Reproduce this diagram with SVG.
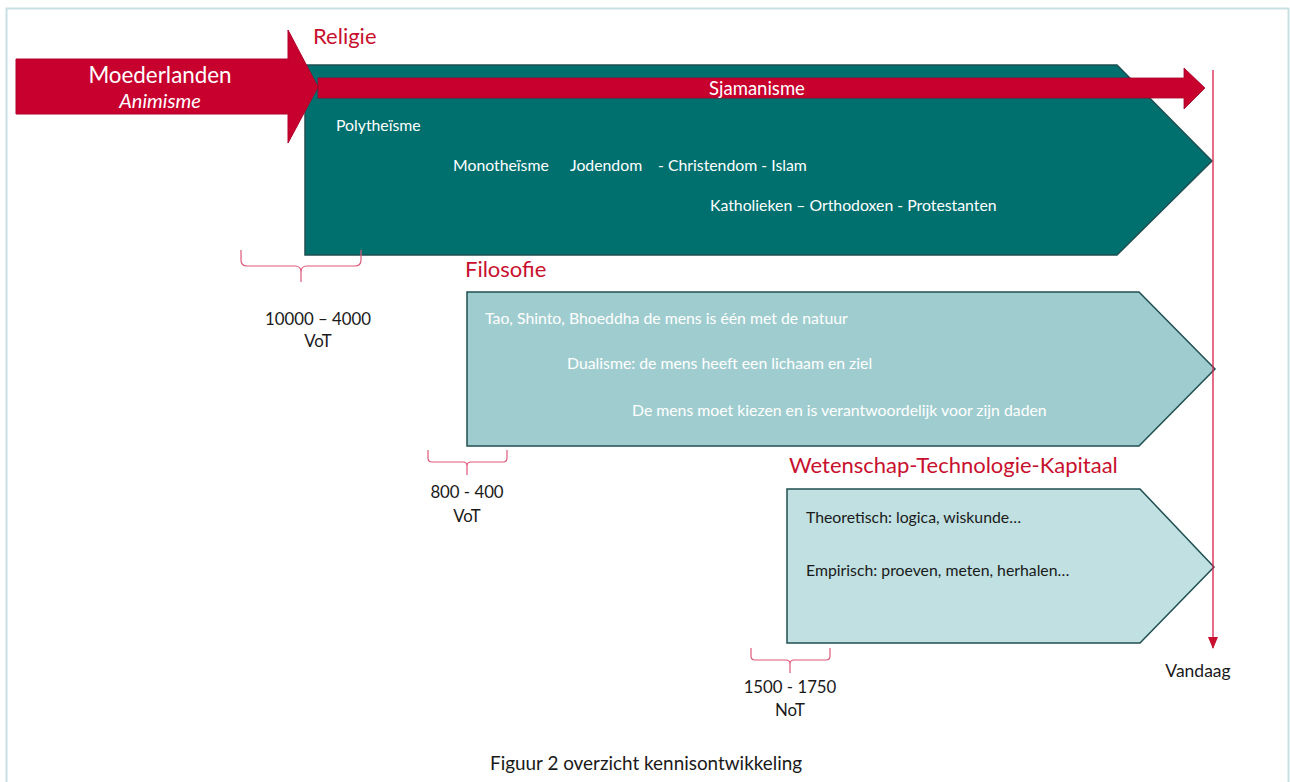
<svg xmlns="http://www.w3.org/2000/svg" width="1290" height="782" viewBox="0 0 1290 782">
<defs>
<style>
text{font-family:Lato,"Open Sans","Liberation Sans",sans-serif}
.lbl{fill:#C8102E;font-size:22px}
.w{fill:#ffffff;font-size:15.8px}
.d{fill:#1a1a1a;font-size:15.8px}
.k{fill:#1a1a1a;font-size:16.8px;text-anchor:middle}
.brace{fill:none;stroke:#E0587A;stroke-width:1.2}
</style>
<marker id="ah" markerWidth="12" markerHeight="12" refX="11" refY="6" orient="auto" markerUnits="userSpaceOnUse" viewBox="0 0 12 12">
<path d="M0,1 L12,6 L0,11 Z" fill="#C8102E"/>
</marker>
</defs>
<rect x="6.5" y="8.5" width="1282" height="790" fill="#ffffff" stroke="#C8E0E2" stroke-width="2"/>

<g id="religie">
<polygon points="305,65 1117,65 1212,161 1117,255 305,255" fill="#00706F" stroke="#1F4F52" stroke-width="1.5"/>
<text class="lbl" x="313" y="44">Religie</text>
<text class="w" x="336" y="131">Polytheïsme</text>
<text class="w" x="453" y="171">Monotheïsme</text>
<text class="w" x="570" y="171">Jodendom</text>
<text class="w" x="658" y="171">- Christendom - Islam</text>
<text class="w" x="710" y="211">Katholieken – Orthodoxen - Protestanten</text>
</g>

<g id="moederlanden">
<polygon points="16,59 288,59 288,30 318,87 288,143 288,114 16,114" fill="#C8002E" stroke="#B0002A" stroke-width="1"/>
<text x="160" y="83" fill="#ffffff" font-size="22.4" text-anchor="middle">Moederlanden</text>
<text x="160" y="108" fill="#ffffff" font-size="20" font-style="italic" text-anchor="middle">Animisme</text>
</g>

<g id="sjamanisme">
<polygon points="318,78 1184,78 1184,68 1205,88 1184,109 1184,98 318,98" fill="#C8002E" stroke="#A00028" stroke-width="0.8"/>
<text x="757" y="94.5" fill="#ffffff" font-size="18.5" text-anchor="middle">Sjamanisme</text>
</g>

<g id="filosofie">
<polygon points="467,292 1139,292 1215,369 1139,446 467,446" fill="#9FCDCF" stroke="#1F4F52" stroke-width="1.5"/>
<text class="lbl" x="465" y="277">Filosofie</text>
<text class="w" x="485" y="324">Tao, Shinto, Bhoeddha de mens is één met de natuur</text>
<text class="w" x="567" y="369">Dualisme: de mens heeft een lichaam en ziel</text>
<text class="w" x="632" y="416">De mens moet kiezen en is verantwoordelijk voor zijn daden</text>
</g>

<g id="wetenschap">
<polygon points="787,489 1140,489 1214,567 1140,643 787,643" fill="#C0E0E1" stroke="#1F4F52" stroke-width="1.5"/>
<text class="lbl" x="789" y="473">Wetenschap-Technologie-Kapitaal</text>
<text class="d" x="806" y="523">Theoretisch: logica, wiskunde…</text>
<text class="d" x="806" y="576">Empirisch: proeven,  meten, herhalen…</text>
</g>

<g id="periode1">
<path class="brace" d="M241,250 V260 Q241,266 247,266 H295 Q301,266 301,272 V282 M301,272 Q301,266 307,266 H355 Q361,266 361,260 V250"/>
<text class="k" x="318" y="325">10000 – 4000</text>
<text class="k" x="318" y="347">VoT</text>
</g>

<g id="periode2">
<path class="brace" d="M428,450 V458 Q428,462 432,462 H463 Q467,462 467,466 V475 M467,466 Q467,462 471,462 H503 Q507,462 507,458 V450"/>
<text class="k" x="467" y="498">800 - 400</text>
<text class="k" x="467" y="522">VoT</text>
</g>

<g id="periode3">
<path class="brace" d="M751,648 V656 Q751,660 755,660 H786 Q790,660 790,664 V673 M790,664 Q790,660 794,660 H826 Q830,660 830,656 V648"/>
<text class="k" x="790" y="693">1500 - 1750</text>
<text class="k" x="790" y="716">NoT</text>
</g>

<g id="connectors">
<line x1="1213" y1="70" x2="1213" y2="648" stroke="#D8204A" stroke-width="1.3" marker-end="url(#ah)"/>
</g>

<g id="vandaag">
<text x="1198" y="677" fill="#1a1a1a" font-size="17.5" text-anchor="middle">Vandaag</text>
</g>

<text x="490" y="770" fill="#1a1a1a" font-size="18.9">Figuur 2 overzicht kennisontwikkeling</text>
</svg>
